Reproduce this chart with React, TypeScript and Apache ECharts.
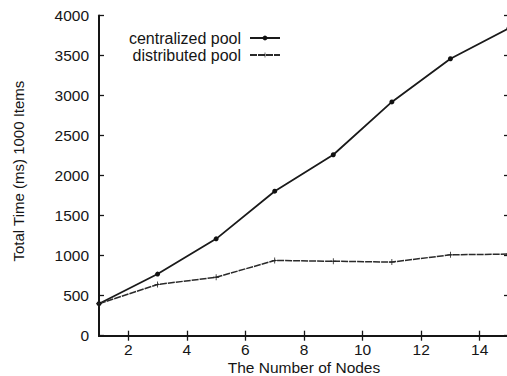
import React, { useEffect, useRef } from "react";
import * as echarts from "echarts";

const nodes = [1, 3, 5, 7, 9, 11, 13, 15];
const centralized = [400, 770, 1210, 1805, 2260, 2920, 3460, 3840];
const distributed = [400, 640, 730, 940, 930, 920, 1010, 1020];
const xTicks = [2, 4, 6, 8, 10, 12, 14];

const FONT = "Liberation Sans, Arial, Helvetica, sans-serif";
const INK = "#151515";

export default function App() {
  const ref = useRef<HTMLDivElement>(null);
  useEffect(() => {
    if (!ref.current) return;
    const chart = echarts.init(ref.current, undefined, { renderer: "svg" });
    const plusPath = "path://M-0.4,-3 L0.4,-3 L0.4,-0.4 L3,-0.4 L3,0.4 L0.4,0.4 L0.4,3 L-0.4,3 L-0.4,0.4 L-3,0.4 L-3,-0.4 L-0.4,-0.4 Z";
    chart.setOption({
      animation: false,
      backgroundColor: "#ffffff",
      textStyle: { fontFamily: FONT, color: INK },
      grid: { left: 99, right: -2, top: 15.5, bottom: 40.3, outerBoundsMode: "none", containLabel: false },
      legend: {
        orient: "vertical",
        right: 221,
        top: 25,
        align: "right",
        itemWidth: 30,
        itemHeight: 6,
        itemGap: 1,
        textStyle: { fontSize: 16, lineHeight: 14, color: INK, fontFamily: FONT, padding: [0, 4, 0, 0] },
        data: ["centralized pool", "distributed pool"],
      },
      xAxis: [
        {
          type: "value",
          min: 1,
          max: 15,
          name: "The Number of Nodes",
          nameLocation: "middle",
          nameMoveOverlap: false,
          nameGap: 24,
          nameTextStyle: { fontSize: 15.5, lineHeight: 15, color: INK, fontFamily: FONT },
          axisLine: { lineStyle: { color: INK, width: 2 } },
          axisTick: { inside: true, length: 5, customValues: xTicks, lineStyle: { color: INK, width: 1.3 } },
          axisLabel: { customValues: xTicks, margin: 6, fontSize: 15.5, color: INK, fontFamily: FONT },
          splitLine: { show: false },
        },
        {
          type: "value",
          position: "top",
          min: 1,
          max: 15,
          axisLine: { lineStyle: { color: INK, width: 2 } },
          axisTick: { inside: true, length: 5, customValues: xTicks, lineStyle: { color: INK, width: 1.3 } },
          axisLabel: { show: false },
          splitLine: { show: false },
        },
      ],
      yAxis: [
        {
          type: "value",
          min: 0,
          max: 4000,
          interval: 500,
          name: "Total Time (ms) 1000 Items",
          nameLocation: "middle",
          nameMoveOverlap: false,
          nameRotate: 90,
          nameGap: 73,
          nameTextStyle: { fontSize: 15, color: INK, fontFamily: FONT, padding: [0, 0, 0, 9] },
          axisLine: { show: true, lineStyle: { color: INK, width: 2 } },
          axisTick: { show: true, inside: true, length: 5, lineStyle: { color: INK, width: 1.3 } },
          axisLabel: {
            margin: 10,
            fontSize: 15.5,
            color: INK,
            fontFamily: FONT,
            formatter: (v: number) => String(v),
          },
          splitLine: { show: false },
        },
        {
          type: "value",
          position: "right",
          min: 0,
          max: 4000,
          interval: 500,
          axisLine: { show: true, lineStyle: { color: INK, width: 2 } },
          axisTick: { show: true, inside: true, length: 5, lineStyle: { color: INK, width: 1.3 } },
          axisLabel: { show: false },
          splitLine: { show: false },
        },
      ],
      series: [
        {
          name: "centralized pool",
          type: "line",
          data: nodes.map((n, i) => [n, centralized[i]]),
          symbol: "circle",
          symbolSize: 5,
          showAllSymbol: true,
          lineStyle: { color: "#1a1a1a", width: 1.8 },
          itemStyle: { color: "#111111" },
        },
        {
          name: "distributed pool",
          type: "line",
          data: nodes.map((n, i) => [n, distributed[i]]),
          symbol: plusPath,
          symbolSize: 6,
          showAllSymbol: true,
          lineStyle: { color: "#2a2a2a", width: 1.5, type: [7, 1] },
          itemStyle: { color: "#222222" },
        },
      ],
    });
    return () => chart.dispose();
  }, []);
  return (
    <div
      ref={ref}
      style={{ position: "absolute", left: 0, top: 0, width: 507, height: 376, background: "#fff" }}
    />
  );
}
